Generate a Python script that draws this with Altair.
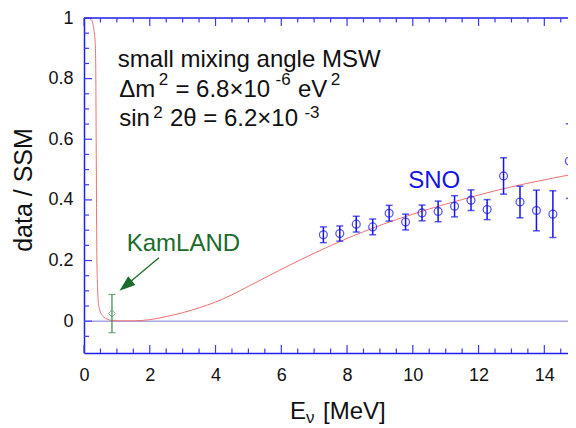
import altair as alt
import pandas as pd

# ---------------- data ----------------
curve_E = [0.0, 0.1, 0.2, 0.25, 0.28, 0.31, 0.33, 0.35, 0.36, 0.37, 0.38, 0.39, 0.41, 0.43,
           0.47, 0.52, 0.6, 0.7, 0.85, 1.0, 1.5, 2.0, 2.5, 3.0, 3.5, 4.0, 4.5, 5.0, 5.5,
           6.0, 6.5, 7.0, 7.5, 8.0, 8.5, 9.0, 9.5, 10.0, 10.5, 11.0, 11.5, 12.0, 12.5,
           13.0, 13.5, 14.0, 14.5, 15.0]
curve_P = [1.0, 0.999, 0.996, 0.99, 0.975, 0.955, 0.935, 0.89, 0.80, 0.60, 0.40, 0.22, 0.12,
           0.07, 0.04, 0.025, 0.014, 0.007, 0.002, 0.001, 0.001, 0.005, 0.015, 0.028, 0.044,
           0.063, 0.087, 0.115, 0.143, 0.171, 0.198, 0.224, 0.249, 0.273, 0.295, 0.316,
           0.335, 0.353, 0.370, 0.386, 0.401, 0.416, 0.430, 0.443, 0.455, 0.466, 0.477, 0.487]

sno_E = [7.28, 7.78, 8.28, 8.78, 9.28, 9.78, 10.28, 10.77, 11.27, 11.77, 12.26, 12.76,
         13.26, 13.76, 14.26, 14.76]
sno_v = [0.285, 0.289, 0.320, 0.311, 0.356, 0.327, 0.357, 0.362, 0.379, 0.399, 0.368,
         0.479, 0.393, 0.365, 0.353, 0.528]
sno_err = [0.026, 0.025, 0.026, 0.026, 0.026, 0.026, 0.026, 0.034, 0.035, 0.034, 0.033,
           0.060, 0.052, 0.067, 0.077, 0.123]

kam_E = [0.85]
kam_v = [0.025]
kam_err = [0.063]

x_major = [0, 2, 4, 6, 8, 10, 12, 14]
x_minor = [0.5, 1, 1.5, 2.5, 3, 3.5, 4.5, 5, 5.5, 6.5, 7, 7.5, 8.5, 9, 9.5, 10.5, 11,
           11.5, 12.5, 13, 13.5, 14.5]
y_major = [0, 0.2, 0.4, 0.6, 0.8, 1.0]
y_minor = [-0.05, 0.05, 0.1, 0.15, 0.25, 0.3, 0.35, 0.45, 0.5, 0.55, 0.65, 0.7, 0.75,
           0.85, 0.9, 0.95]

# ---------------- styling ----------------
FONT = "Liberation Sans"
AXIS = "#2020ee"
TICK = "#3a3aee"
CURVE = "#f07070"
SNO = "#1414e6"
KAM = "#3a8a4a"
KAMTXT = "#1b6b2b"
ZERO = "#7c7cd2"
TOP = 10
W, H = 484, 335
XMAX = 14.72
YMIN, YMAX = -0.105, 1.0

xs = alt.Scale(domain=[0, XMAX], nice=False, zero=False)
ys = alt.Scale(domain=[YMIN, YMAX], nice=False, zero=False)
xaxis = alt.Axis(values=x_major, title=None, grid=False, ticks=False, tickSize=0,
                 labelFontSize=18, labelPadding=13, labelColor="#111", labelFlush=False,
                 domainColor=AXIS, domainWidth=1.5, labelFont=FONT)
yaxis = alt.Axis(values=y_major, format="~g", title=None, grid=False, ticks=False,
                 tickSize=0, labelFontSize=18, labelPadding=11, labelColor="#111",
                 labelFlush=False, domainColor=AXIS, domainWidth=1.5, labelFont=FONT)


def X(f):
    return alt.X(f, type="quantitative", scale=xs, axis=xaxis)


def Y(f):
    return alt.Y(f, type="quantitative", scale=ys, axis=yaxis)


def XD(d):
    return alt.X(datum=d, scale=xs, axis=xaxis)


def YD(d):
    return alt.Y(datum=d, scale=ys, axis=yaxis)


curve_df = pd.DataFrame({"E": curve_E, "v": curve_P})
sno_df = pd.DataFrame({"E": sno_E, "v": sno_v, "err": sno_err})
sno_df["lo"] = sno_df["v"] - sno_df["err"]
sno_df["hi"] = sno_df["v"] + sno_df["err"]
kam_df = pd.DataFrame({"E": kam_E, "v": kam_v, "err": kam_err})
kam_df["lo"] = kam_df["v"] - kam_df["err"]
kam_df["hi"] = kam_df["v"] + kam_df["err"]
one = pd.DataFrame({"k": [0]})

layers = []

# zero line
layers.append(alt.Chart(one).mark_rule(color=ZERO, strokeWidth=1).encode(y=YD(0)))

# curve
layers.append(alt.Chart(curve_df).mark_line(color=CURVE, strokeWidth=1.0, clip=True,
                                             interpolate="monotone").encode(x=X("E"), y=Y("v")))

# SNO error bars + caps + circles
layers.append(alt.Chart(sno_df).mark_rule(color=SNO, strokeWidth=1.5, clip=True).encode(
    x=X("E"), y=Y("lo"), y2="hi"))
for col in ["lo", "hi"]:
    layers.append(alt.Chart(sno_df).mark_tick(color=SNO, orient="horizontal", size=7,
                                              thickness=1.5, clip=True).encode(x=X("E"), y=Y(col)))
layers.append(alt.Chart(sno_df).mark_point(shape="circle", filled=False, color=SNO, size=62,
                                           strokeWidth=1.3, clip=True).encode(x=X("E"), y=Y("v")))

# KamLAND point
layers.append(alt.Chart(kam_df).mark_rule(color=KAM, strokeWidth=1.2).encode(
    x=X("E"), y=Y("lo"), y2="hi"))
for col in ["lo", "hi"]:
    layers.append(alt.Chart(kam_df).mark_tick(color=KAM, orient="horizontal", size=7,
                                              thickness=1.2).encode(x=X("E"), y=Y(col)))
layers.append(alt.Chart(kam_df).mark_point(shape="diamond", filled=False, color=KAM, size=45,
                                           strokeWidth=1).encode(x=X("E"), y=Y("v")))

# arrow to KamLAND
layers.append(alt.Chart(one).mark_rule(color=KAMTXT, strokeWidth=1.3).encode(
    x=XD(2.28), y=YD(0.209), x2=alt.datum(1.30), y2=alt.datum(0.120)))
layers.append(alt.Chart(one).mark_point(shape="M0,-1L0.7,1L-0.7,1Z", filled=True, color=KAMTXT,
                                        opacity=1, size=256, angle=230.5).encode(
    x=XD(1.266), y=YD(0.117)))

# frame: top line and inward ticks
layers.append(alt.Chart(one).mark_rule(color=AXIS, strokeWidth=1.5).encode(y=alt.value(0)))
for vals, ln in [(x_major, 8), (x_minor, 4.5)]:
    tdf = pd.DataFrame({"E": vals})
    layers.append(alt.Chart(tdf).mark_rule(color=TICK, strokeWidth=1.2).encode(
        x=X("E"), y=alt.value(H), y2=alt.value(H - ln)))
    layers.append(alt.Chart(tdf).mark_rule(color=TICK, strokeWidth=1.2).encode(
        x=X("E"), y=alt.value(0), y2=alt.value(ln)))
for vals, ln in [(y_major, 8), (y_minor, 5)]:
    tdf = pd.DataFrame({"v": vals})
    layers.append(alt.Chart(tdf).mark_rule(color=TICK, strokeWidth=1.2).encode(
        y=Y("v"), x=alt.value(0), x2=alt.value(ln)))


# annotation text
def txt(s, E, v, size=24, color="#111", dx=0, dy=0):
    return alt.Chart(one).mark_text(text=s, font=FONT, fontSize=size, color=color,
                                    align="left", baseline="alphabetic", dx=dx, dy=dy).encode(
        x=XD(E), y=YD(v))


AW = {"Δ": 0.667, "m": 0.833, "=": 0.584, " ": 0.278, "6": 0.556, ".": 0.278, "8": 0.556,
      "×": 0.584, "1": 0.556, "0": 0.556, "-": 0.333, "e": 0.556, "V": 0.667, "2": 0.556,
      "s": 0.5, "i": 0.222, "n": 0.556, "θ": 0.556, "3": 0.556}
STRETCH = 1.03


def line(pieces, E, v, raise_px):
    out = []
    off = 0.0
    for s, sup in pieces:
        size = 17 if sup else 24
        if sup:
            off += 2.5
        if s.strip():
            out.append(txt(s, E, v, size=size, dx=round(off, 1), dy=-raise_px if sup else 0))
        off += sum(AW[c] for c in s) * size * STRETCH
    return out


layers.append(txt("small mixing angle MSW", 1.03, 0.839))
layers += line([("Δm", False), ("2", True), (" ", False), ("= 6.8×10", False), ("-6", True),
                (" ", False), ("eV", False), ("2", True)], 1.07, 0.739, 12)
layers += line([("sin", False), ("2", True), (" ", False), ("2θ = 6.2×10", False),
                ("-3", True)], 1.07, 0.643, 8)
layers.append(txt("KamLAND", 1.30, 0.232, color=KAMTXT))
layers.append(txt("SNO", 9.86, 0.438, color=SNO))

# axis titles
layers.append(alt.Chart(one).mark_text(text="data / SSM", font=FONT, fontSize=25, color="#111",
                                       angle=270, align="center", baseline="middle").encode(
    x=alt.value(-60), y=alt.value(190 - 8 - TOP)))
layers.append(alt.Chart(one).mark_text(text="E", font=FONT, fontSize=24, color="#111",
                                       align="left", baseline="alphabetic").encode(
    x=alt.value(206), y=alt.value(419 - 8 - TOP)))
layers.append(alt.Chart(one).mark_text(text="ν", font=FONT, fontSize=17, color="#111",
                                       align="left", baseline="alphabetic").encode(
    x=alt.value(222), y=alt.value(423 - 8 - TOP)))
layers.append(alt.Chart(one).mark_text(text="[MeV]", font=FONT, fontSize=24, color="#111",
                                       align="left", baseline="alphabetic").encode(
    x=alt.value(239), y=alt.value(419 - 8 - TOP)))

chart = alt.layer(*layers).properties(
    width=W, height=H,
    autosize=alt.AutoSizeParams(type="none"),
    padding={"left": 76, "top": TOP, "right": 0, "bottom": 420 - TOP - H},
    background="white",
).configure_view(strokeOpacity=0).configure(font=FONT)

chart.save("out.html", embed_options={"renderer": "svg", "actions": False})
